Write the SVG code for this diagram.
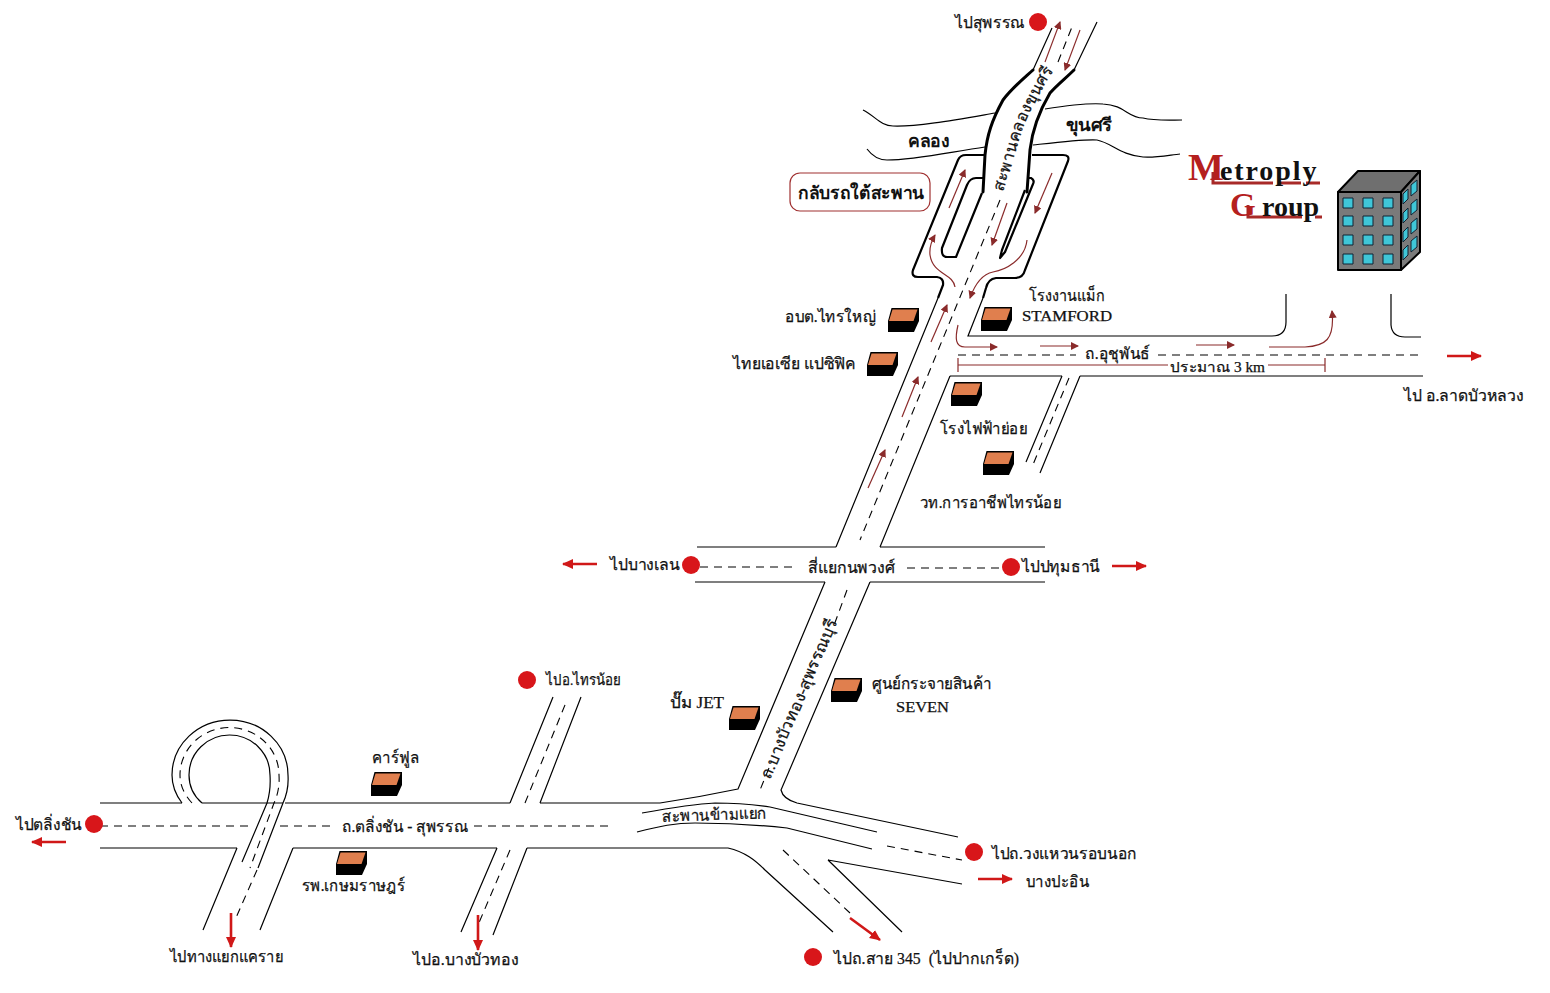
<svg xmlns="http://www.w3.org/2000/svg" width="1550" height="993" viewBox="0 0 1550 993">
<style>
.r{fill:none;stroke:#000;stroke-width:1.2}
.t{fill:none;stroke:#000;stroke-width:3;stroke-linejoin:round;stroke-linecap:round}
.o{fill:none;stroke:#000;stroke-width:2.2;stroke-linejoin:round}
.d{fill:none;stroke:#000;stroke-width:1.1;stroke-dasharray:8 6}
.a{fill:none;stroke:#8a2b2b;stroke-width:1.2;marker-end:url(#ha)}
.b{fill:none;stroke:#d01818;stroke-width:2.6;marker-end:url(#hb)}
.p{fill:#d8161a}
text{font-family:"Liberation Serif","Noto Sans",serif;font-size:16px;fill:#111;stroke:#111;stroke-width:.25}
.k{font-weight:bold;stroke:none}
.logo{font-weight:bold;stroke:none}
.win{fill:#3fc6d8;stroke:#123;stroke-width:1}
</style>
<defs>
<marker id="ha" markerWidth="9" markerHeight="8" refX="7" refY="4" orient="auto" markerUnits="userSpaceOnUse"><path d="M0 0L8 4L0 8Z" fill="#8a2b2b"/></marker>
<marker id="hb" markerWidth="12" markerHeight="12" refX="10" refY="6" orient="auto" markerUnits="userSpaceOnUse"><path d="M0 1L11 6L0 11Z" fill="#d01818"/></marker>
<g id="box"><path d="M0 13L3.500 0H31V13L26 24H0Z" fill="#000"/><path d="M1 13L4.500 1.500H29.500L25.500 13Z" fill="#e07f4e"/></g>
<path id="bridgeLabel" d="M1003 192L1015 153C1023 125 1034 100 1054 70"/>
</defs>
<rect width="1550" height="993" fill="#fff"/>
<g id="connectors">
<path class="r" d="M863 110C875 116 881 126 893 126C917 127 960 119 995 113M1045 109C1070 105 1090 103 1103 104C1125 105 1128 118 1143 118C1155 121 1170 120 1182 120"/>
<path class="r" d="M867 149C873 157 880 160 887 160C915 160 950 152 985 147M1033 145C1060 142 1085 139 1097 140C1112 143 1120 155 1143 157C1155 158 1170 155 1180 154"/>
<path class="t" d="M983 192L985 155C987 135 992 120 1003 100C1012 88 1022 80 1033 70"/>
<path class="t" d="M1027 192L1030 150C1032 132 1037 115 1050 93C1057 85 1066 78 1074 70"/>
<path class="r" d="M1033 70L1052 28M1074 70L1097 22"/>
<path class="d" d="M1058 62L1072 27"/>
<path class="o" d="M938 298L943 285Q944 278 937 277H918Q911 277 913 270L958 160Q960 155 966 155H985M1032 155H1063Q1070 155 1068 161L1025 270Q1023 278 1015 278H996Q988 279 986 288L983 298"/>
<path class="o" d="M983 178H976Q970 178 967 185L942 248Q941 257 947 257H956L982 193"/>
<path class="o" d="M1027 178H1031Q1035 180 1033 184L1005 252L1000 258L1002 250L1025 190"/>
<path class="r" d="M938 298L836 547M825 582L738 789Q700 797 660 803H620"/>
<path class="r" d="M983 298L968 336H1272Q1286 336 1286 322V294"/>
<path class="r" d="M1391 294V325Q1392 337 1405 337H1421"/>
<path class="r" d="M950 376H1062M1080 376H1423M950 376L880 547M870 582L781 790Q783 799 797 803L958 837"/>
<path class="d" d="M1000 200L860 540M847 590L833 628M769 768L760 790"/>
<path class="d" d="M958 355H1076M1158 355H1420"/>
<path class="r" d="M1062 376L1026 462M1080 376L1040 473"/>
<path class="d" d="M1069 378L1032 467"/>
<path class="r" d="M697 547H836M880 547H1045M695 582H825M870 582H1045"/>
<path class="d" d="M700 567H798M907 568H1002"/>
<path class="r" d="M100 803H182M202 803H283M285 803H510M540 803H620M100 848H237M293 848H497M527 848H728C745 852 755 860 765 870L833 932"/>
<path class="d" d="M100 826H250M280 826H330M474 826H612"/>
<path class="r" d="M182 803Q172 790 172 775A58 55 0 0 1 288 775Q289 790 283 803L258 868"/>
<path class="r" d="M202 803Q189 792 189 775A40.500 40 0 0 1 270 775Q271 790 267 803L242 862"/>
<path class="d" d="M192 803Q180 790 180 775A49.500 47.500 0 0 1 279 775Q280 790 274 803L250 868"/>
<path class="r" d="M237 848L203 930M293 848L260 930"/>
<path class="d" d="M257 870L235 920"/>
<path class="r" d="M510 803L553 697M540 803L581 697M497 848L461 932M527 848L493 935"/>
<path class="d" d="M525 803L567 700M510 850L478 925"/>
<path class="r" d="M642 813C670 808 695 804 715 803C735 803 750 804 770 807L877 832M637 832C660 826 675 823 695 823C730 823 760 825 787 828L872 849"/>
<path class="d" d="M887 846L962 860"/>
<path class="r" d="M828 860L962 884M828 860L902 932"/>
<path class="d" d="M783 850L850 913"/>
<path class="r" d="M958 358V372M1325 358V372M958 365H1168M1268 365H1325" style="stroke:#8a2b2b"/>
<path class="a" d="M1045 62L1060 22"/>
<path class="a" d="M1080 30L1065 70"/>
<path class="a" d="M949 208L965 170"/>
<path class="a" d="M1052 173L1035 213"/>
<path class="a" d="M1007 203L992 245"/>
<path class="a" d="M955 287C953 273 933 275 930 255Q929 245 935 235"/>
<path class="a" d="M1027 240C1025 260 1005 270 993 272C983 274 975 284 970 298"/>
<path class="a" d="M931 342L947 305"/>
<path class="a" d="M902 417L918 377"/>
<path class="a" d="M868 488L885 450"/>
<path class="a" d="M958 325C955 338 955 347 965 347H997"/>
<path class="a" d="M1040 346H1078"/>
<path class="a" d="M1196 345H1234"/>
<path class="a" d="M1269 347H1305C1325 346 1335 340 1332 311"/>
<path class="b" d="M1447 356H1481"/>
<path class="b" d="M597 564H563"/>
<path class="b" d="M1112 566H1146"/>
<path class="b" d="M66 842H32"/>
<path class="b" d="M231 913V947"/>
<path class="b" d="M478 915V950"/>
<path class="b" d="M850 918L880 940"/>
<path class="b" d="M978 879H1012"/>
</g>
<g id="points">
<circle class="p" cx="1038" cy="22" r="9"/><circle class="p" cx="691" cy="565" r="9"/><circle class="p" cx="1011" cy="567" r="9"/><circle class="p" cx="94" cy="824" r="9"/><circle class="p" cx="527" cy="680" r="9"/><circle class="p" cx="974" cy="852" r="9"/><circle class="p" cx="813" cy="957" r="9"/>
</g>
<g id="uturn-label"><rect x="790" y="173" width="140" height="38" rx="10" fill="#fff" stroke="#a03030" stroke-width="1.2"/><text class="k" x="798" y="199" textLength="126" lengthAdjust="spacingAndGlyphs" style="font-size:18px">กลับรถใต้สะพาน</text></g>
<g id="landmarks">
<use href="#box" x="888" y="308"/><use href="#box" x="867" y="352"/><use href="#box" x="981" y="307"/><use href="#box" x="951" y="382"/><use href="#box" x="983" y="451"/><use href="#box" x="729" y="706"/><use href="#box" x="831" y="678"/><use href="#box" x="371" y="772"/><use href="#box" x="336" y="851"/>
</g>
<g id="labels">
<text x="955" y="28" textLength="70" lengthAdjust="spacingAndGlyphs">ไปสุพรรณ</text>
<text class="k" x="908" y="147" textLength="42" lengthAdjust="spacingAndGlyphs" style="font-size:18px">คลอง</text>
<text class="k" x="1066" y="131" textLength="46" lengthAdjust="spacingAndGlyphs" style="font-size:18px">ขุนศรี</text>
<text textLength="132" lengthAdjust="spacing"><textPath href="#bridgeLabel">สะพานคลองขุนศรี</textPath></text>
<text x="1029" y="301" textLength="76" lengthAdjust="spacingAndGlyphs">โรงงานแม็ก</text>
<text x="1022" y="321" textLength="90" lengthAdjust="spacingAndGlyphs" style="font-size:14px">STAMFORD</text>
<text x="785" y="322" textLength="91" lengthAdjust="spacingAndGlyphs">อบต.ไทรใหญ่</text>
<text x="733" y="369" textLength="123" lengthAdjust="spacingAndGlyphs">ไทยเอเซีย แปซิฟิค</text>
<text x="1085" y="359" textLength="65" lengthAdjust="spacingAndGlyphs">ถ.อุชุพันธ์</text>
<text x="1170" y="372" textLength="95" lengthAdjust="spacingAndGlyphs" style="font-size:14px">ประมาณ 3 km</text>
<text x="1404" y="401" textLength="120" lengthAdjust="spacingAndGlyphs">ไป อ.ลาดบัวหลวง</text>
<text x="940" y="434" textLength="87" lengthAdjust="spacingAndGlyphs">โรงไฟฟ้าย่อย</text>
<text x="920" y="508" textLength="141" lengthAdjust="spacingAndGlyphs">วท.การอาชีพไทรน้อย</text>
<text x="610" y="570" textLength="70" lengthAdjust="spacingAndGlyphs">ไปบางเลน</text>
<text x="808" y="573" textLength="87" lengthAdjust="spacingAndGlyphs">สี่แยกนพวงศ์</text>
<text x="1022" y="572" textLength="78" lengthAdjust="spacingAndGlyphs">ไปปทุมธานี</text>
<text transform="translate(770 780) rotate(-67)" textLength="172" lengthAdjust="spacingAndGlyphs">ถ.บางบัวทอง-สุพรรณบุรี</text>
<text x="872" y="689" textLength="120" lengthAdjust="spacingAndGlyphs">ศูนย์กระจายสินค้า</text>
<text x="896" y="712" textLength="53" lengthAdjust="spacingAndGlyphs" style="font-size:14px">SEVEN</text>
<text x="670" y="708" textLength="54" lengthAdjust="spacingAndGlyphs">ปั๊ม JET</text>
<text x="546" y="685" textLength="75" lengthAdjust="spacingAndGlyphs" style="font-size:15px">ไปอ.ไทรน้อย</text>
<text x="372" y="763" textLength="47" lengthAdjust="spacingAndGlyphs">คาร์ฟูล</text>
<text x="342" y="832" textLength="126" lengthAdjust="spacingAndGlyphs">ถ.ตลิ่งชัน - สุพรรณ</text>
<text x="16" y="830" textLength="66" lengthAdjust="spacingAndGlyphs">ไปตลิ่งชัน</text>
<text x="302" y="891" textLength="103" lengthAdjust="spacingAndGlyphs">รพ.เกษมราษฎร์</text>
<text transform="translate(662 822) rotate(-2)" textLength="105" lengthAdjust="spacingAndGlyphs">สะพานข้ามแยก</text>
<text x="992" y="859" textLength="145" lengthAdjust="spacingAndGlyphs">ไปถ.วงแหวนรอบนอก</text>
<text x="1026" y="887" textLength="63" lengthAdjust="spacingAndGlyphs">บางปะอิน</text>
<text x="170" y="962" textLength="113" lengthAdjust="spacingAndGlyphs">ไปทางแยกแคราย</text>
<text x="413" y="965" textLength="106" lengthAdjust="spacingAndGlyphs">ไปอ.บางบัวทอง</text>
<text x="834" y="964" textLength="185" lengthAdjust="spacingAndGlyphs" xml:space="preserve">ไปถ.สาย 345  (ไปปากเกร็ด)</text>
</g>
<g id="logo">
<path d="M1213 172V183H1273M1280 183H1301M1306 183H1320M1248 205V217H1302M1315 217H1322" fill="none" stroke="#a82a28" stroke-width="3"/>
<text class="logo" x="1188" y="180"><tspan style="font-size:38px;fill:#b5201e">M</tspan><tspan x="1220" style="font-size:28px;letter-spacing:1.900px">etroply</tspan></text>
<text class="logo" x="1230" y="216"><tspan style="font-size:33px;fill:#b5201e">G</tspan><tspan x="1262" style="font-size:28px">roup</tspan></text>
</g>
<g id="building" stroke="#000" stroke-width="2" stroke-linejoin="round">
<path d="M1338 192L1358 171H1420L1401 192Z" fill="#6f6f6f"/>
<path d="M1401 192L1420 171V252L1401 270Z" fill="#7b7b7b"/>
<rect x="1338" y="192" width="63" height="78" fill="#7a7a7a"/>
<g class="win">
<rect x="1343" y="198" width="10" height="10"/><rect x="1363" y="198" width="10" height="10"/><rect x="1383" y="198" width="10" height="10"/>
<rect x="1343" y="216" width="10" height="10"/><rect x="1363" y="216" width="10" height="10"/><rect x="1383" y="216" width="10" height="10"/>
<rect x="1343" y="235" width="10" height="10"/><rect x="1363" y="235" width="10" height="10"/><rect x="1383" y="235" width="10" height="10"/>
<rect x="1343" y="254" width="10" height="10"/><rect x="1363" y="254" width="10" height="10"/><rect x="1383" y="254" width="10" height="10"/>
<path d="M1403 194L1408 189V199L1403 204ZM1411 185L1417 180V191L1411 196ZM1403 213L1408 208V218L1403 223ZM1411 204L1417 199V210L1411 215ZM1403 232L1408 227V237L1403 242ZM1411 223L1417 218V229L1411 234ZM1403 250L1408 245V255L1403 260ZM1411 241L1417 236V247L1411 252Z"/>
</g>
</g>
</svg>
